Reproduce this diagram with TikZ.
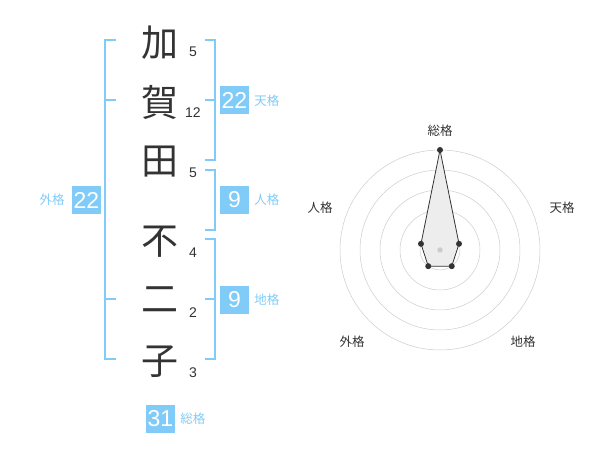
\documentclass[tikz,border=0pt]{standalone}
\usepackage{fontspec}
\setmainfont{Noto Sans CJK JP}
\newfontfamily\numfont{Liberation Sans}
\usepackage{tikz}
\usetikzlibrary{positioning}
\definecolor{kakublue}{HTML}{80CBF8}
\definecolor{inkgray}{HTML}{333333}

\begin{document}
\begin{tikzpicture}[x=1pt, y=-1pt,
  kanji/.style={font=\fontsize{37}{37}\selectfont, text=inkgray, inner sep=0pt},
  strokes/.style={font=\numfont\fontsize{14}{14}\selectfont, text=inkgray, inner sep=0pt},
  kakubox/.style={fill=kakublue, text=white, minimum width=29pt, minimum height=28pt, inner sep=0pt, font=\numfont\fontsize{23}{23}\selectfont},
  kakulabel/.style={text=kakublue, font=\fontsize{12.5}{12.5}\selectfont, inner sep=0pt},
  bracket/.style={draw=kakublue, line width=2pt},
  ring/.style={draw=black!20, line width=0.5pt},
  axislabel/.style={text=inkgray, font=\fontsize{12.5}{12.5}\selectfont, inner sep=0pt},
  datadot/.style={circle, fill=inkgray, inner sep=0pt, minimum size=6pt}]

        \useasboundingbox (0,0) rectangle (600,470);

        % name characters and stroke counts
        \node[kanji] (ka) at (160,43) {加};
        \node[kanji] (ga) at (160,102) {賀};
        \node[kanji] (ta) at (160,162) {田};
        \node[kanji] (fu) at (160,242) {不};
        \node[kanji] (ni) at (160,300) {二};
        \node[kanji] (ko) at (160,362) {子};
        \node[strokes] (ka-n) at (193,52) {5};
        \node[strokes] (ga-n) at (193,113) {12};
        \node[strokes] (ta-n) at (193,173) {5};
        \node[strokes] (fu-n) at (193,253) {4};
        \node[strokes] (ni-n) at (193,313) {2};
        \node[strokes] (ko-n) at (193,373) {3};

        % brackets
        \draw[bracket] (116,40) -- (105,40) -- (105,359) -- (116,359);
        \draw[bracket] (105,100) -- (116,100);
        \draw[bracket] (105,299) -- (116,299);
        \draw[bracket] (205,40) -- (215,40) -- (215,160) -- (205,160);
        \draw[bracket] (215,100) -- (205,100);
        \draw[bracket] (205,170) -- (215,170) -- (215,230) -- (205,230);
        \draw[bracket] (205,239) -- (215,239) -- (215,359) -- (205,359);
        \draw[bracket] (215,299) -- (205,299);

        % totals
        \node[kakubox] (gaikaku) at (86.5,200) {22};
        \node[kakulabel, left=7pt of gaikaku] (gaikaku-l) {外格};
        \node[kakubox] (tenkaku) at (234.5,100.5) {22};
        \node[kakulabel, right=5pt of tenkaku] (tenkaku-l) {天格};
        \node[kakubox] (jinkaku) at (234.5,200) {9};
        \node[kakulabel, right=5pt of jinkaku] (jinkaku-l) {人格};
        \node[kakubox] (chikaku) at (234.5,300) {9};
        \node[kakulabel, right=5pt of chikaku] (chikaku-l) {地格};
        \node[kakubox] (soukaku) at (160.5,419) {31};
        \node[kakulabel, right=5pt of soukaku] (soukaku-l) {総格};

        % radar chart
        \coordinate (ctr) at (440,250);
        \foreach \r in {20,40,...,100}
          \draw[ring] (ctr) circle[radius=\r pt];
        \path (ctr) ++(-90:100) coordinate (sou);
        \path (ctr) ++(-18:20) coordinate (ten);
        \path (ctr) ++(54:20) coordinate (chi);
        \path (ctr) ++(126:20) coordinate (gai);
        \path (ctr) ++(198:20) coordinate (jin);
        \draw[fill=black!7, draw=inkgray, line width=0.8pt] (sou) -- (ten) -- (chi) -- (gai) -- (jin) -- cycle;
        \foreach \p in {sou,ten,chi,gai,jin}
          \node[datadot] (\p-dot) at (\p) {};
        \node[circle, fill=black!20, inner sep=0pt, minimum size=5.5pt] (ctr-dot) at (ctr) {};

        % axis labels
        \node[axislabel] (sou-l) at (440,131) {総格};
        \node[axislabel] (ten-l) at (562,208) {天格};
        \node[axislabel] (jin-l) at (320,208) {人格};
        \node[axislabel] (gai-l) at (352,342) {外格};
        \node[axislabel] (chi-l) at (523,342) {地格};

    \end{tikzpicture}
\end{document}
